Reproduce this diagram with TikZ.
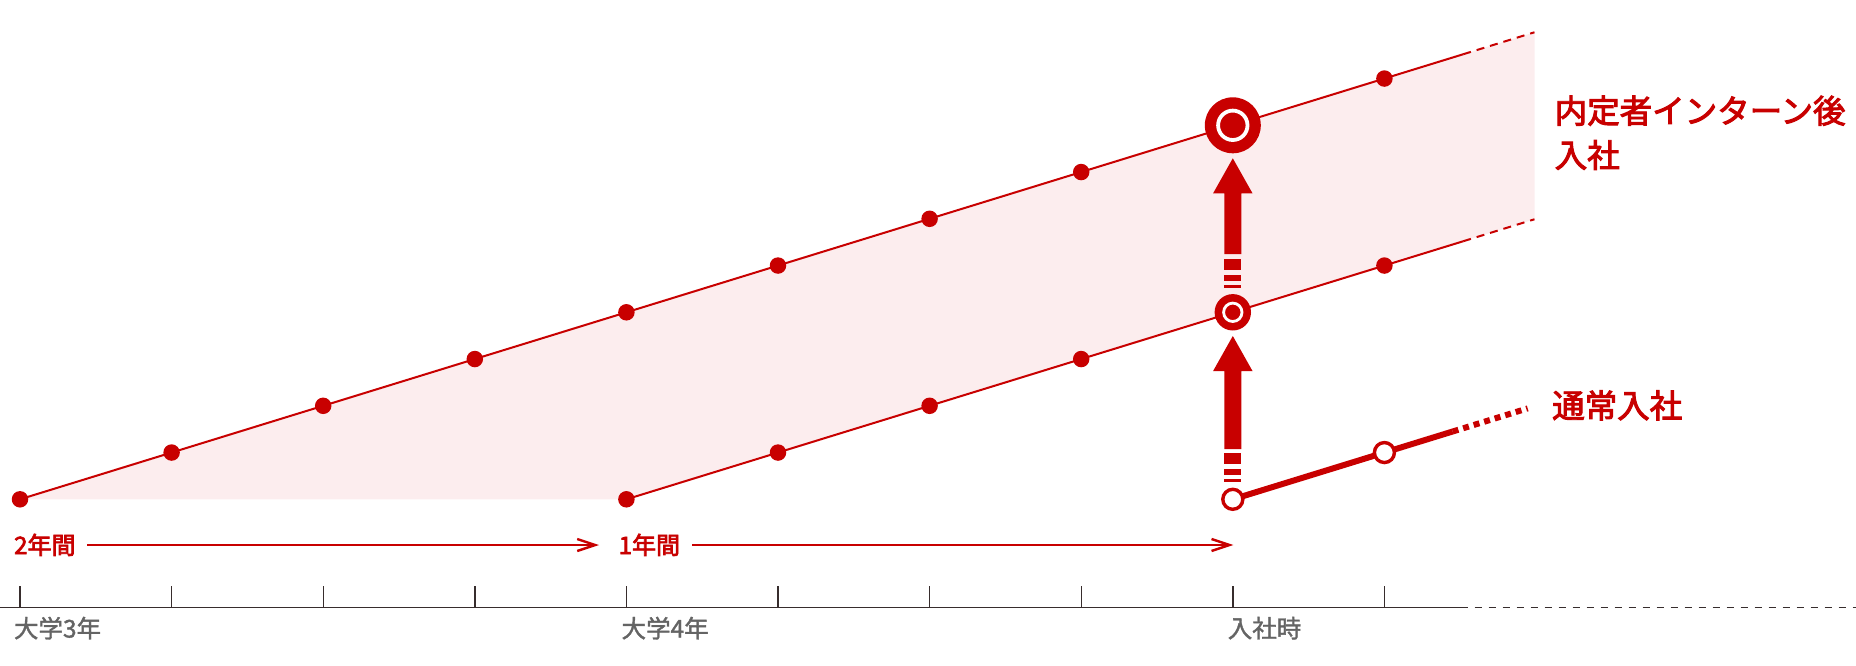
\documentclass[tikz,border=0pt]{standalone}
\usepackage{fontspec}
\setmainfont{Noto Sans CJK JP}
\newfontfamily\medfont[FakeBold=3]{Noto Sans CJK JP}
\newfontfamily\lightmed[FakeBold=1.5]{Noto Sans CJK JP}
\usetikzlibrary{arrows.meta,calc}
\definecolor{bred}{RGB}{200,0,0}
\definecolor{bpink}{RGB}{252,237,238}
\definecolor{axisc}{RGB}{55,45,45}
\definecolor{labc}{RGB}{100,100,100}
\begin{document}
\begin{tikzpicture}[x=1pt,y=-1pt,
  dot/.style={circle,fill=bred,inner sep=0pt,minimum size=16.5pt},
  opendot/.style={circle,draw=bred,fill=white,line width=3.4pt,inner sep=0pt,minimum size=20pt},
  thinline/.style={bred,line width=2pt},
  thickline/.style={bred,line width=6pt},
  axisline/.style={axisc,line width=1.4pt},
  redarrow/.style={bred,line width=2pt,-{Straight Barb[length=18pt,width=12pt,line width=2.4pt]}},
  bigtitle/.style={anchor=base west,inner sep=0pt,text=bred,font=\medfont\fontsize{32.5}{40}\selectfont},
  redlabel/.style={anchor=base west,inner sep=0pt,text=bred,font=\medfont\fontsize{24}{28}\selectfont},
  axislabel/.style={anchor=base west,inner sep=0pt,text=labc,font=\lightmed\fontsize{24.5}{28}\selectfont}]
\useasboundingbox (0,0) rectangle (1856,666);

% coordinates
\foreach \i in {0,...,9} \coordinate (U\i) at ({20+151.6*\i},{499.3-46.75*\i});
\foreach \i in {4,...,9} \coordinate (L\i) at ({20+151.6*\i},{499.3-46.75*(\i-4)});
\coordinate (N8) at (1232.8,499.3);
\coordinate (N9) at (1384.4,452.55);
\coordinate (UE) at ($(U8)!1.52!(U9)$);
\coordinate (UF) at ($(U8)!1.99!(U9)$);
\coordinate (LE) at ($(L8)!1.52!(L9)$);
\coordinate (LF) at ($(L8)!1.99!(L9)$);
\coordinate (NE) at ($(N8)!1.45!(N9)$);
\coordinate (NF) at ($(N8)!1.945!(N9)$);

% band
\fill[bpink] (U0) -- (UF) -- (LF) -- (L4) -- cycle;

% lines
\draw[thinline] (U0) -- (UE);
\draw[thinline,dash pattern=on 8pt off 6pt] (UE) -- (UF);
\draw[thinline] (L4) -- (LE);
\draw[thinline,dash pattern=on 8pt off 6pt] (LE) -- (LF);
\draw[thickline] (N8) -- (NE);
\draw[thickline,dash pattern=on 6pt off 5pt] (NE) -- (NF);

% dots
\foreach \i in {0,...,7,9} \node[dot] (u\i) at (U\i) {};
\foreach \i in {4,...,7,9} \node[dot] (l\i) at (L\i) {};

% big marker
\node[circle,fill=bred,inner sep=0pt,minimum size=56pt] (big) at (U8) {};
\draw[white,line width=3.8pt] (big.center) circle (14.7pt);
% mid marker
\node[circle,fill=bred,inner sep=0pt,minimum size=36.4pt] (mid) at (L8) {};
\draw[white,line width=2.8pt] (mid.center) circle (9.2pt);
% open markers
\node[opendot] (n8) at (N8) {};
\node[opendot] (n9) at (N9) {};

% upward arrows
\begin{scope}[shift={(big.center)}]
  \fill[bred] (0,33) -- (19.7,68) -- (8.5,68) -- (8.5,128.7) -- (-8.5,128.7) -- (-8.5,68) -- (-19.7,68) -- cycle;
  \fill[bred] (-8.5,133.4) rectangle (8.5,144.7);
  \fill[bred] (-8.5,149.4) rectangle (8.5,155.4);
  \fill[bred] (-8.5,159.7) rectangle (8.5,162.4);
\end{scope}
\begin{scope}[shift={(mid.center)}]
  \fill[bred] (0,23.7) -- (19.7,58.7) -- (8.5,58.7) -- (8.5,136.7) -- (-8.5,136.7) -- (-8.5,58.7) -- (-19.7,58.7) -- cycle;
  \fill[bred] (-8.5,140.7) rectangle (8.5,152);
  \fill[bred] (-8.5,156.4) rectangle (8.5,162.4);
  \fill[bred] (-8.5,166.4) rectangle (8.5,169.4);
\end{scope}

% titles
\node[bigtitle] (t1) at (1554.5,123) {内定者インターン後};
\node[bigtitle] (t2) at (1554.5,167.3) {入社};
\node[bigtitle] (t3) at (1552,417.7) {通常入社};

% period labels and arrows
\node[redlabel] (p2) at (14,554) {2年間};
\node[redlabel] (p1) at (618.5,554) {1年間};
\coordinate (a1s) at (87.2,545);
\coordinate (a1e) at (599,545);
\coordinate (a2s) at (692,545);
\coordinate (a2e) at (1233.3,545);
\draw[redarrow] (a1s) -- (a1e);
\draw[redarrow] (a2s) -- (a2e);

% axis
\coordinate (A0) at (0,607.7);
\coordinate (A1) at (1460.7,607.7);
\coordinate (A2) at (1856,607.7);
\coordinate (T) at (0,586);
\draw[axisline] (A0) -- (A1);
\draw[axisline,dash pattern=on 7pt off 7pt] (A1) -- (A2);
\foreach \i in {0,...,9} \draw[axisline] (U\i |- T) -- (U\i |- A0);

\node[axislabel] (x3) at (13.8,637.5) {大学3年};
\node[axislabel] (x4) at (621.4,637.5) {大学4年};
\node[axislabel] (xj) at (1227.6,637.5) {入社時};
\end{tikzpicture}
\end{document}
